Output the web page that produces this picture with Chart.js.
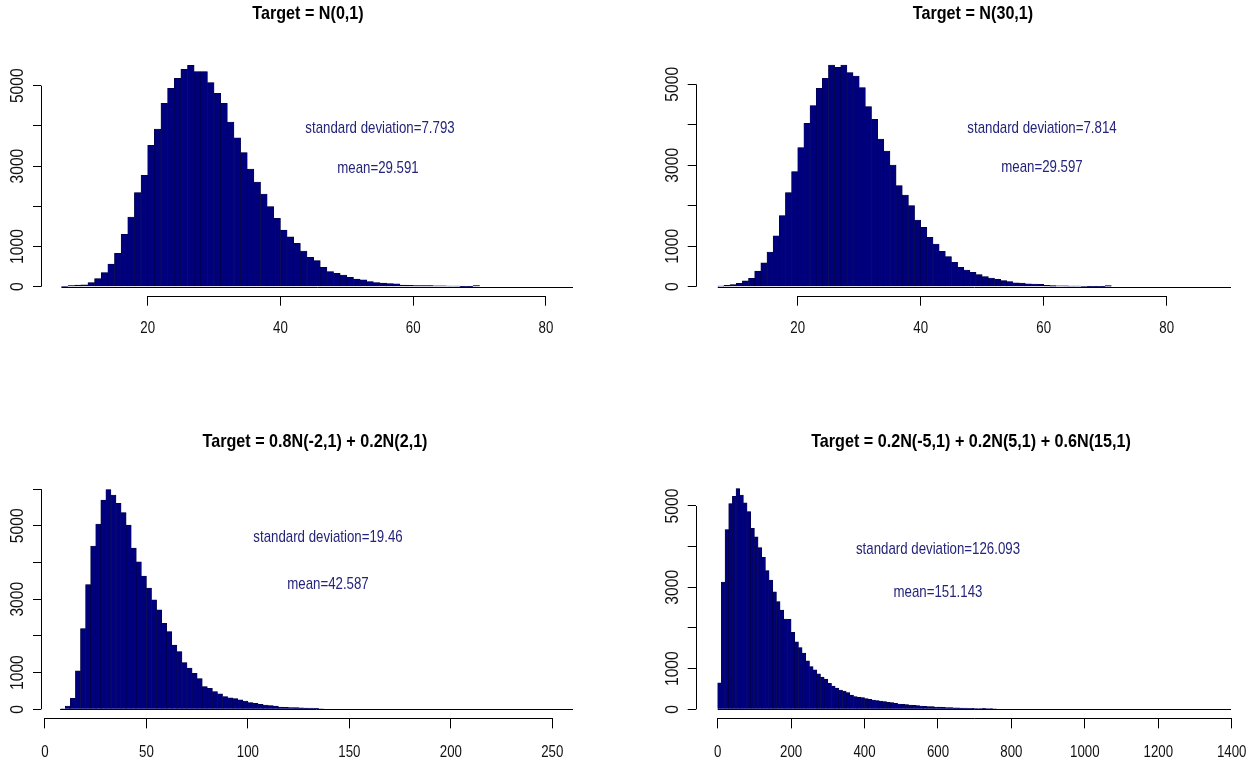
<!DOCTYPE html>
<html><head><meta charset="utf-8">
<script src="https://cdn.jsdelivr.net/npm/chart.js@4.4.1/dist/chart.umd.min.js"></script>
<style>
html,body{margin:0;padding:0;background:#fff;}
#wrap{position:relative;width:1258px;height:764px;background:#fff;overflow:hidden;}
.panel{position:absolute;width:629px;height:382px;}
canvas{display:block;}
</style></head><body>
<div id="wrap">
<div class="panel" style="left:0;top:0"><canvas id="c1" width="629" height="382"></canvas></div>
<div class="panel" style="left:629px;top:0"><canvas id="c2" width="629" height="382"></canvas></div>
<div class="panel" style="left:0;top:382px"><canvas id="c3" width="629" height="382"></canvas></div>
<div class="panel" style="left:629px;top:382px"><canvas id="c4" width="629" height="382"></canvas></div>
</div>
<script>
// ---------- data ----------
const titles = [
  "Target = N(0,1)",
  "Target = N(30,1)",
  "Target = 0.8N(-2,1) + 0.2N(2,1)",
  "Target = 0.2N(-5,1) + 0.2N(5,1) + 0.6N(15,1)"
];
const sdTexts = ["standard deviation=7.793", "standard deviation=7.814", "standard deviation=19.46", "standard deviation=126.093"];
const meanTexts = ["mean=29.591", "mean=29.597", "mean=42.587", "mean=151.143"];

// panel 1 : bin left edges (width 1) and counts
const p1Edges = [7,8,9,10,11,12,13,14,15,16,17,18,19,20,21,22,23,24,25,26,27,28,29,30,31,32,33,34,35,36,37,38,39,40,41,42,43,44,45,46,47,48,49,50,51,52,53,54,55,56,57,58,59,60,61,62,63,64,65,66,67,68,69];
const p1Counts = [5,25,40,45,100,200,350,560,830,1300,1733,2338,2770,3516,3922,4560,4934,5182,5406,5506,5348,5348,5075,4809,4560,4096,3706,3333,2927,2604,2305,1990,1700,1409,1243,1078,887,730,647,481,373,332,290,232,190,170,130,100,90,80,70,40,35,30,28,25,22,20,18,15,3,2,30];

// panel 2 : bin left edges (width 1) and counts
const p2Edges = [7,8,9,10,11,12,13,14,15,16,17,18,19,20,21,22,23,24,25,26,27,28,29,30,31,32,33,34,35,36,37,38,39,40,41,42,43,44,45,46,47,48,49,50,51,52,53,54,55,56,57,58,59,60,61,62,63,64,65,66,67,68,69,70];
const p2Counts = [16,33,50,82,148,206,387,593,857,1260,1755,2323,2842,3435,4036,4473,4901,5148,5478,5420,5478,5288,5206,4918,4448,4135,3649,3353,3007,2496,2265,2002,1647,1466,1221,1056,875,743,602,479,413,355,297,248,215,181,149,124,99,91,74,66,58,33,25,22,20,18,15,5,3,2,3,25];

// panel 3 : bin left edges (width 2.5) and counts
const p3Edges = [7.5,10,12.5,15,17.5,20,22.5,25,27.5,30,32.5,35,37.5,40,42.5,45,47.5,50,52.5,55,57.5,60,62.5,65,67.5,70,72.5,75,77.5,80,82.5,85,87.5,90,92.5,95,97.5,100,102.5,105,107.5,110,112.5,115,117.5,120,122.5,125,127.5,130,132.5,135];
const p3Counts = [10,90,300,1050,2200,3400,4450,5050,5700,5990,5840,5610,5360,5020,4390,4020,3630,3300,2980,2710,2340,2120,1750,1570,1270,1120,980,840,620,570,480,420,345,310,290,255,227,182,163,136,118,100,85,60,55,50,45,40,35,30,25,10];

// panel 4 : bin left edges (width 10) and counts
const p4Edges = [0,10,20,30,40,50,60,70,80,90,100,110,120,130,140,150,160,170,180,190,200,210,220,230,240,250,260,270,280,290,300,310,320,330,340,350,360,370,380,390,400,410,420,430,440,450,460,470,480,490,500,510,520,530,540,550,560,570,580,590,600,610,620,630,640,650,660,670,680,690,700,710,720,730,740,750];
const p4Counts = [650,3130,4420,5060,5240,5430,5270,5080,4860,4450,4240,3980,3740,3410,3180,2890,2650,2440,2220,2210,1890,1660,1520,1380,1190,1050,970,870,790,740,640,570,520,475,450,410,350,310,295,285,262,246,229,213,205,188,172,164,147,131,123,115,106,98,90,82,74,66,66,57,52,48,45,40,36,33,30,27,25,22,20,18,22,15,20,12];

// tick values and labels
const xTicks12 = [20,40,60,80];
const xTicks3 = [0,50,100,150,200,250];
const xTicks4 = [0,200,400,600,800,1000,1200,1400];
const yTicks5 = [0,1000,2000,3000,4000,5000];
const yLabels5 = ["0","1000","","3000","","5000"];
const yTicks6 = [0,1000,2000,3000,4000,5000,6000];
const yLabels6 = ["0","1000","","3000","","5000",""];

// ---------- drawing ----------
const FONT = "'Liberation Sans','Arimo',Arial,sans-serif";
Chart.defaults.font.family = FONT;

function drawText(ctx, text, x, y, font, color, sx, rot) {
  ctx.save();
  ctx.translate(x, y);
  if (rot) ctx.rotate(rot);
  ctx.scale(sx, 1);
  ctx.font = font;
  ctx.fillStyle = color;
  ctx.textAlign = 'center';
  ctx.textBaseline = 'middle';
  ctx.fillText(text, 0, 0);
  ctx.restore();
}

function makeRPlugin(P) {
  return {
    id: 'rStyle',
    afterDraw(chart) {
      const ctx = chart.ctx, xs = chart.scales.x, ys = chart.scales.y, a = chart.chartArea;
      ctx.save();
      ctx.strokeStyle = '#000'; ctx.lineWidth = 1;
      // y axis line (first to last tick)
      const xl = Math.round(a.left) + 0.5;
      ctx.beginPath();
      ctx.moveTo(xl, ys.getPixelForValue(P.yTicks[0]));
      ctx.lineTo(xl, ys.getPixelForValue(P.yTicks[P.yTicks.length - 1]));
      ctx.stroke();
      // x axis line (first to last tick)
      const yb = Math.round(a.bottom) + 0.5;
      ctx.beginPath();
      ctx.moveTo(xs.getPixelForValue(P.xTicks[0]), yb);
      ctx.lineTo(xs.getPixelForValue(P.xTicks[P.xTicks.length - 1]), yb);
      ctx.stroke();
      // zero baseline
      const y0 = Math.round(ys.getPixelForValue(0)) + 0.5;
      ctx.beginPath();
      ctx.moveTo(xs.getPixelForValue(P.edges[0]), y0);
      ctx.lineTo(a.right - 2, y0);
      ctx.stroke();
      ctx.restore();
      // x tick labels
      P.xTicks.forEach(v => {
        drawText(ctx, String(v), xs.getPixelForValue(v), a.bottom + P.xLabOff, "17px " + FONT, '#111', 0.78, 0);
      });
      // rotated y labels
      P.yTicks.forEach((v, i) => {
        const lab = P.yLabels[i];
        if (!lab) return;
        drawText(ctx, lab, a.left - 23, ys.getPixelForValue(v), "18px " + FONT, '#111', 0.87, -Math.PI / 2);
      });
      // title
      drawText(ctx, P.title, P.titlePos[0], P.titlePos[1], "bold 19px " + FONT, '#000', 0.85, 0);
      // annotations
      drawText(ctx, P.sd, P.sdPos[0], P.sdPos[1], "17px " + FONT, '#24247a', 0.78, 0);
      drawText(ctx, P.mean, P.meanPos[0], P.meanPos[1], "17px " + FONT, '#24247a', 0.78, 0);
    }
  };
}

function makeChart(id, P) {
  const half = P.binWidth / 2;
  const pts = P.edges.map((e, i) => ({x: e + half, y: P.counts[i]}));
  const yW = 30, xH = 40;
  const gridOpts = (tl) => ({display: true, drawOnChartArea: false, drawTicks: true, tickLength: tl, color: '#000', lineWidth: 1, offset: false});
  return new Chart(document.getElementById(id), {
    type: 'bar',
    data: {datasets: [{data: pts, backgroundColor: '#00007c', borderColor: '#000030', borderWidth: 0.5,
      barPercentage: 1, categoryPercentage: 1, borderSkipped: 'start'}]},
    options: {
      responsive: false, animation: false, devicePixelRatio: 1,
      layout: {padding: {left: P.area.left - yW, right: 629 - P.area.right, top: P.area.top, bottom: 382 - P.area.bottom - xH}},
      plugins: {legend: {display: false}, tooltip: {enabled: false}, title: {display: false}},
      scales: {
        x: {type: 'linear', min: P.xMin, max: P.xMax, offset: false,
          grid: gridOpts(10), border: {display: false},
          ticks: {display: false},
          afterBuildTicks: s => { s.ticks = P.xTicks.map(v => ({value: v})); },
          afterFit: s => { s.height = xH; }},
        y: {type: 'linear', min: P.yMin, max: P.yMax,
          grid: gridOpts(8), border: {display: false},
          ticks: {display: false},
          afterBuildTicks: s => { s.ticks = P.yTicks.map(v => ({value: v})); },
          afterFit: s => { s.width = yW; }}
      }
    },
    plugins: [makeRPlugin(P)]
  });
}

const topArea = {left: 41, right: 575, top: 56.7, bottom: 295.7};
const topAreaR = {left: 66.7, right: 604, top: 56.7, bottom: 295.7};
const botArea = {left: 41, right: 575, top: 97.4, bottom: 336.4};
const botAreaR = {left: 66.7, right: 604, top: 97.4, bottom: 336.4};

makeChart('c1', {edges: p1Edges, counts: p1Counts, binWidth: 1, xMin: 3.93, xMax: 84.37, yMin: -224, yMax: 5721,
  xTicks: xTicks12, yTicks: yTicks5, yLabels: yLabels5, area: topArea, xLabOff: 32.6,
  title: titles[0], titlePos: [308, 14], sd: sdTexts[0], sdPos: [380, 128], mean: meanTexts[0], meanPos: [378, 168]});
makeChart('c2', {edges: p2Edges, counts: p2Counts, binWidth: 1, xMin: 3.41, xMax: 90.78, yMin: -222, yMax: 5682,
  xTicks: xTicks12, yTicks: yTicks5, yLabels: yLabels5, area: topAreaR, xLabOff: 32.6,
  title: titles[1], titlePos: [344, 14], sd: sdTexts[1], sdPos: [413, 128], mean: meanTexts[1], meanPos: [413, 167]});
makeChart('c3', {edges: p3Edges, counts: p3Counts, binWidth: 2.5, xMin: -1.97, xMax: 261.2, yMin: -248, yMax: 6264,
  xTicks: xTicks3, yTicks: yTicks6, yLabels: yLabels6, area: botArea, xLabOff: 34.3,
  title: titles[2], titlePos: [315, 60], sd: sdTexts[2], sdPos: [328, 155], mean: meanTexts[2], meanPos: [328, 202]});
makeChart('c4', {edges: p4Edges, counts: p4Counts, binWidth: 10, xMin: -59.9, xMax: 1403.6, yMin: -224, yMax: 5654,
  xTicks: xTicks4, yTicks: yTicks5, yLabels: yLabels5, area: botAreaR, xLabOff: 34.3,
  title: titles[3], titlePos: [342, 60], sd: sdTexts[3], sdPos: [309, 167], mean: meanTexts[3], meanPos: [309, 210]});
</script>
</body></html>
